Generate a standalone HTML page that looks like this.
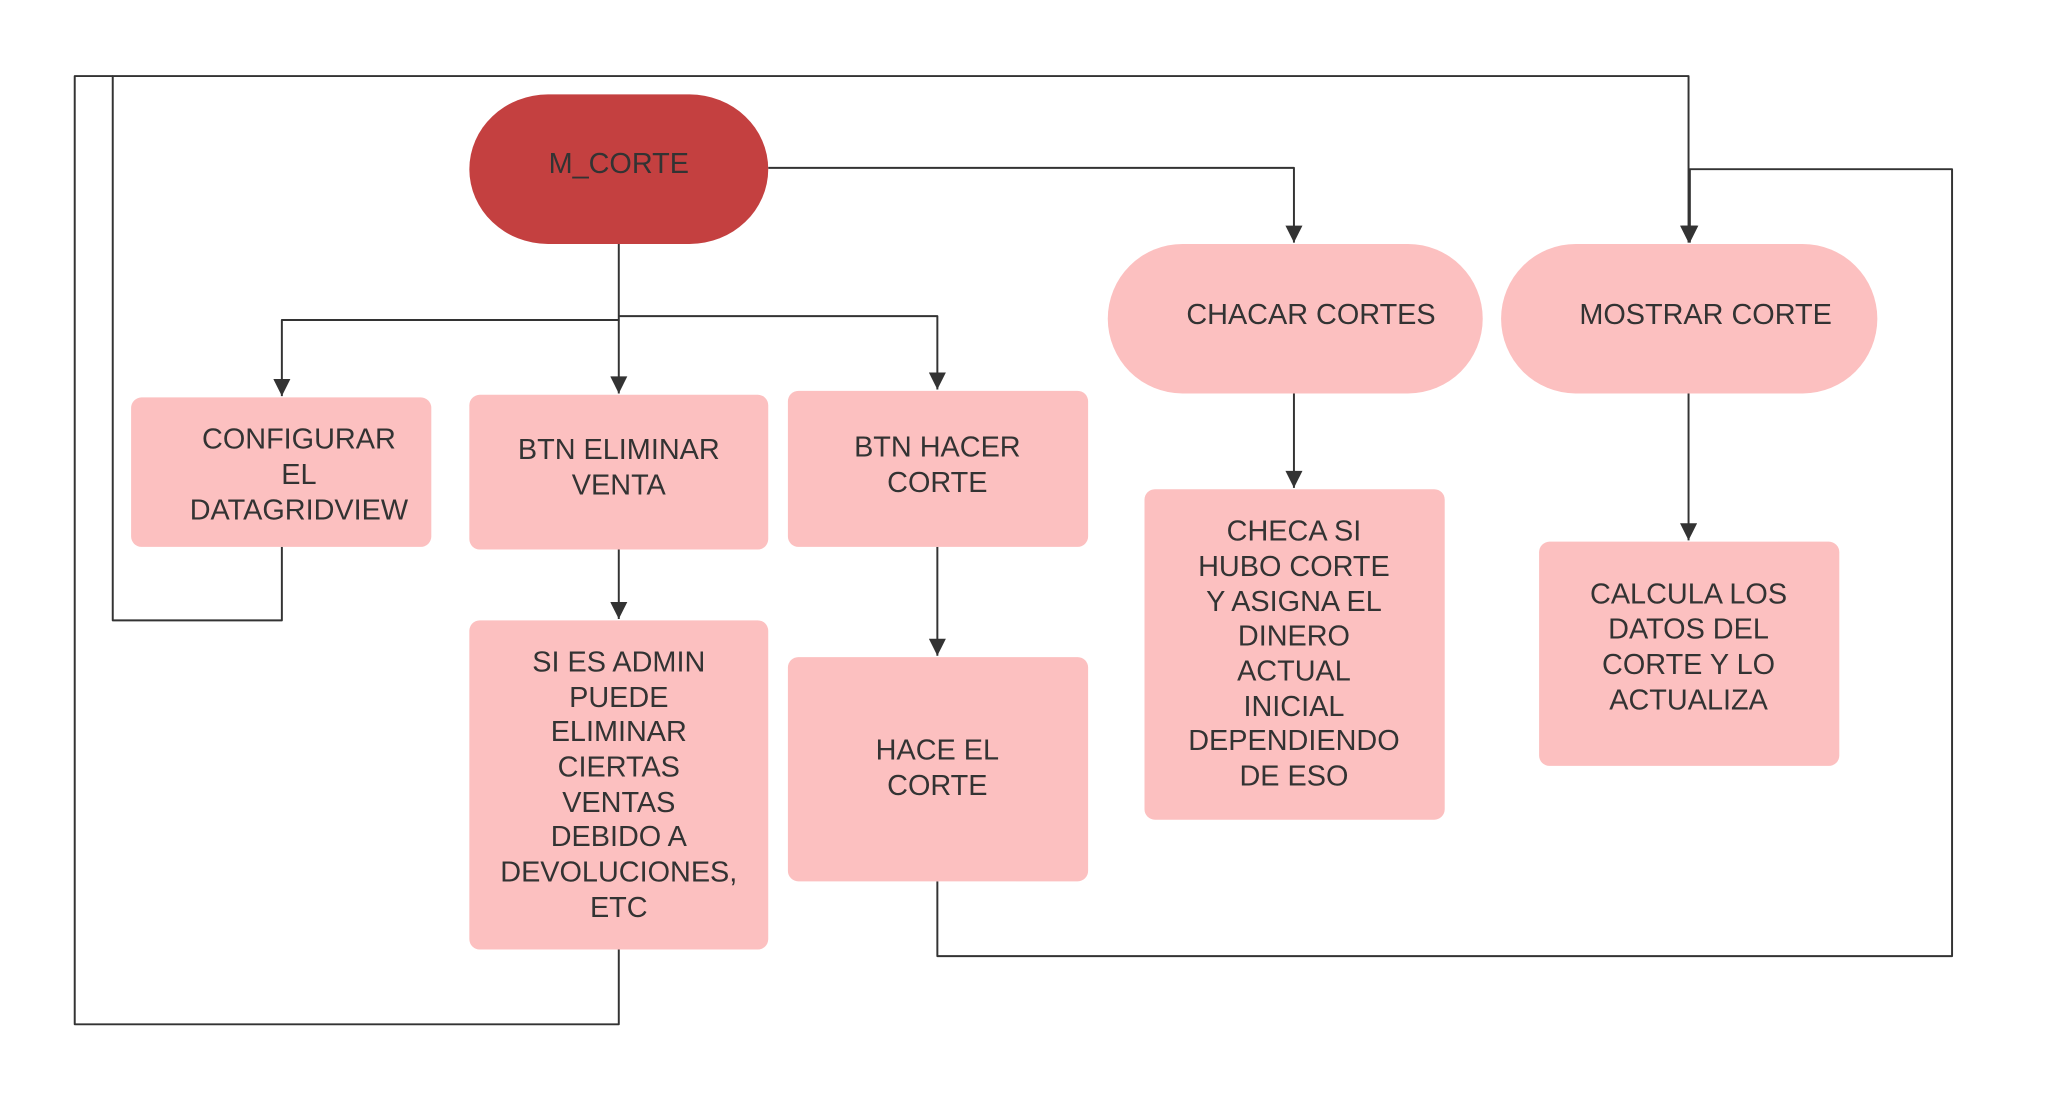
<!DOCTYPE html>
<html><head><meta charset="utf-8"><style>html,body{margin:0;padding:0;background:#fff}svg{display:block}</style></head>
<body>
<svg width="2053" height="1103" viewBox="0 0 1566 841" preserveAspectRatio="none" xmlns="http://www.w3.org/2000/svg" font-family="Liberation Sans, sans-serif" font-size="22" fill="#333">
<defs><marker id="a" viewBox="0 0 10 10" refX="10" refY="5" markerWidth="22" markerHeight="13" orient="auto" markerUnits="userSpaceOnUse"><path d="M0,0L10,5L0,10z" fill="#333"/></marker></defs>
<g fill="none" stroke="#333" stroke-width="1.5" stroke-linejoin="round">
<path d="M472,186V244H215V302" marker-end="url(#a)"/>
<path d="M472,244V300" marker-end="url(#a)"/>
<path d="M472,241H715V297" marker-end="url(#a)"/>
<path d="M586,128H987V185" marker-end="url(#a)"/>
<path d="M987,300V372" marker-end="url(#a)"/>
<path d="M1288,300V412" marker-end="url(#a)"/>
<path d="M472,419V472" marker-end="url(#a)"/>
<path d="M715,417V500" marker-end="url(#a)"/>
<path d="M215,417V473H86V58H1288V185" marker-end="url(#a)"/>
<path d="M472,724V781H57V58H86"/>
<path d="M715,672V729H1489V129H1289V185" marker-end="url(#a)"/>
</g>
<rect x="358" y="72" width="228" height="114" rx="60" fill="#c44040"/>
<rect x="845" y="186" width="286" height="114" rx="57" fill="#fcc0c0"/>
<rect x="1145" y="186" width="287" height="114" rx="57" fill="#fcc0c0"/>
<rect x="100" y="303" width="229" height="114" rx="8" fill="#fcc0c0"/>
<rect x="358" y="301" width="228" height="118" rx="8" fill="#fcc0c0"/>
<rect x="601" y="298" width="229" height="119" rx="8" fill="#fcc0c0"/>
<rect x="358" y="473" width="228" height="251" rx="8" fill="#fcc0c0"/>
<rect x="601" y="501" width="229" height="171" rx="8" fill="#fcc0c0"/>
<rect x="873" y="373" width="229" height="252" rx="8" fill="#fcc0c0"/>
<rect x="1174" y="413" width="229" height="171" rx="8" fill="#fcc0c0"/>
<g text-anchor="middle">
<text x="472" y="132">M_CORTE</text>
<text x="1000" y="247">CHACAR CORTES</text>
<text x="1301" y="247">MOSTRAR CORTE</text>
<text x="228" y="342">CONFIGURAR</text><text x="228" y="369">EL</text><text x="228" y="396">DATAGRIDVIEW</text>
<text x="472" y="350">BTN ELIMINAR</text><text x="472" y="377">VENTA</text>
<text x="715" y="348">BTN HACER</text><text x="715" y="375">CORTE</text>
<text x="472" y="512">SI ES ADMIN</text><text x="472" y="539">PUEDE</text><text x="472" y="565">ELIMINAR</text><text x="472" y="592">CIERTAS</text><text x="472" y="619">VENTAS</text><text x="472" y="645">DEBIDO A</text><text x="472" y="672">DEVOLUCIONES,</text><text x="472" y="699">ETC</text>
<text x="715" y="579">HACE EL</text><text x="715" y="606">CORTE</text>
<text x="987" y="412">CHECA SI</text><text x="987" y="439">HUBO CORTE</text><text x="987" y="466">Y ASIGNA EL</text><text x="987" y="492">DINERO</text><text x="987" y="519">ACTUAL</text><text x="987" y="546">INICIAL</text><text x="987" y="572">DEPENDIENDO</text><text x="987" y="599">DE ESO</text>
<text x="1288" y="460">CALCULA LOS</text><text x="1288" y="487">DATOS DEL</text><text x="1288" y="514">CORTE Y LO</text><text x="1288" y="541">ACTUALIZA</text>
</g>
</svg>
</body></html>
